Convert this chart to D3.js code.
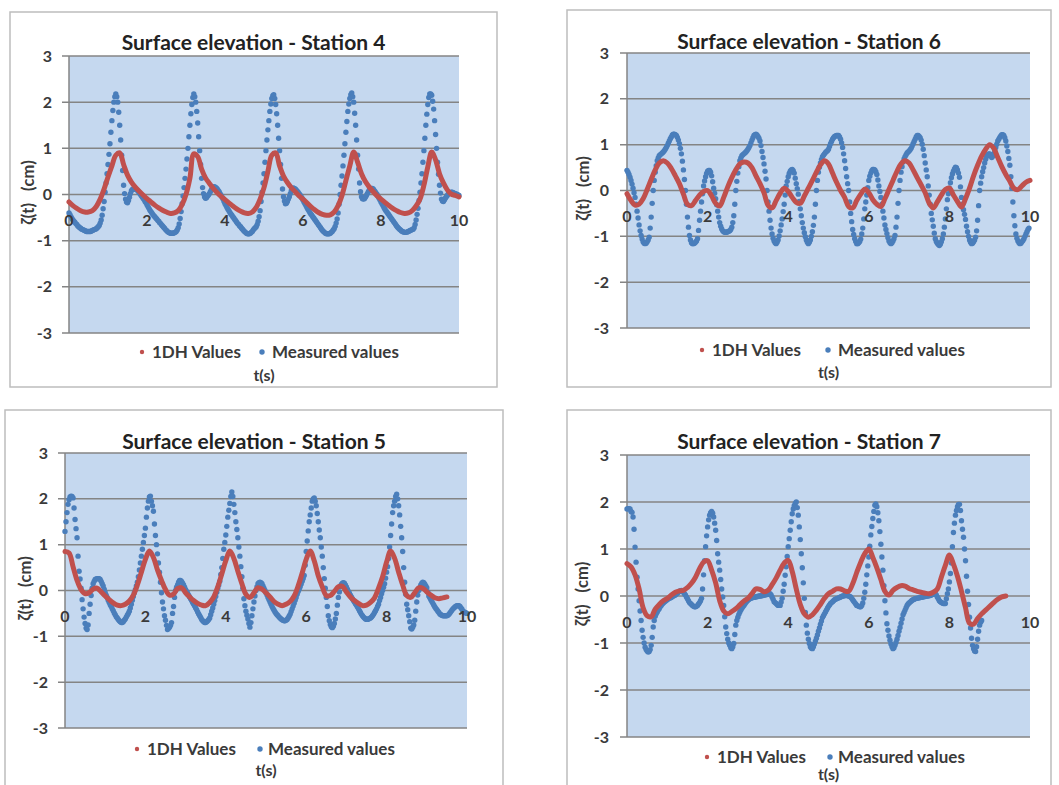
<!DOCTYPE html>
<html><head><meta charset="utf-8">
<script src="https://cdn.jsdelivr.net/npm/d3@7"></script>
<style>
body{margin:0;background:#fff}
svg{display:block}
text{font-family:Lato,"Liberation Sans",sans-serif;font-weight:bold;white-space:pre}
</style>
</head><body>
<svg id="chart" width="1059" height="785"></svg>
<script>
// ---------- data ----------
const yTicks = [-3, -2, -1, 0, 1, 2, 3];
const xTicks = [0, 2, 4, 6, 8, 10];
const legendLabels = ["1DH Values", "Measured values"];
const titles = ["Surface elevation - Station 4", "Surface elevation - Station 6",
                "Surface elevation - Station 5", "Surface elevation - Station 7"];
const xLabel = "t(s)";
const yLabel = "ζ(t)   (cm)";
const dtModel = 0.1;    // sampling step of 1DH series (s)
const dtMeas = 0.025;   // sampling step of measured series (s)

// Station 4
const st4Model = [-0.16,-0.24,-0.30,-0.35,-0.38,-0.38,-0.35,-0.26,-0.10,0.12,0.38,
  0.62,0.85,0.90,0.65,0.42,0.27,0.16,0.07,-0.01,-0.09,
  -0.16,-0.23,-0.29,-0.34,-0.38,-0.41,-0.40,-0.35,-0.22,0.00,
  0.35,0.88,0.82,0.55,0.36,0.24,0.13,0.04,-0.04,-0.11,
  -0.18,-0.25,-0.31,-0.36,-0.40,-0.41,-0.38,-0.28,-0.10,0.15,
  0.50,0.85,0.90,0.62,0.40,0.26,0.15,0.06,-0.03,-0.10,
  -0.18,-0.26,-0.33,-0.39,-0.43,-0.45,-0.44,-0.38,-0.24,-0.02,
  0.30,0.62,0.92,0.70,0.45,0.28,0.16,0.06,-0.03,-0.10,
  -0.17,-0.24,-0.30,-0.35,-0.39,-0.41,-0.40,-0.35,-0.25,-0.10,
  0.20,0.60,0.92,0.75,0.45,0.25,0.10,0.01,-0.02,-0.05];
const st4Meas = [
  -0.40,-0.44,-0.48,-0.52,-0.55,-0.58,-0.60,-0.63,-0.65,-0.68,-0.70,-0.72,-0.73,-0.75,-0.76,-0.77,-0.78,-0.79,-0.80,-0.80,
  -0.80,-0.80,-0.80,-0.79,-0.78,-0.77,-0.76,-0.75,-0.74,-0.72,-0.70,-0.67,-0.62,-0.55,-0.45,-0.31,-0.15,0.05,0.25,0.45,
  0.65,0.87,1.10,1.35,1.60,1.82,2.00,2.12,2.18,2.12,2.00,1.78,1.50,1.18,0.85,0.52,0.20,0.02,-0.10,-0.16,
  -0.18,-0.13,-0.06,0.02,0.08,0.11,0.12,0.12,0.12,0.11,0.09,0.07,0.04,0.01,-0.02,-0.05,-0.08,-0.11,-0.15,-0.18,
  -0.22,-0.26,-0.30,-0.34,-0.37,-0.40,-0.43,-0.46,-0.48,-0.51,-0.53,-0.56,-0.58,-0.61,-0.63,-0.66,-0.68,-0.71,-0.73,-0.76,
  -0.78,-0.80,-0.82,-0.83,-0.84,-0.84,-0.84,-0.84,-0.83,-0.82,-0.80,-0.77,-0.72,-0.64,-0.52,-0.37,-0.20,-0.03,0.15,0.35,
  0.55,0.77,1.00,1.25,1.50,1.75,1.95,2.10,2.18,2.12,2.00,1.80,1.55,1.25,0.95,0.65,0.35,0.15,0.02,-0.05,
  -0.08,-0.07,-0.04,-0.01,0.02,0.06,0.10,0.14,0.16,0.17,0.16,0.14,0.12,0.09,0.06,0.02,-0.02,-0.06,-0.10,-0.15,
  -0.20,-0.24,-0.28,-0.32,-0.35,-0.39,-0.42,-0.45,-0.48,-0.51,-0.54,-0.57,-0.60,-0.63,-0.65,-0.68,-0.70,-0.73,-0.75,-0.78,
  -0.80,-0.82,-0.84,-0.85,-0.85,-0.85,-0.84,-0.82,-0.80,-0.77,-0.74,-0.72,-0.70,-0.65,-0.58,-0.48,-0.35,-0.15,0.05,0.25,
  0.45,0.70,0.95,1.18,1.40,1.60,1.80,1.96,2.08,2.14,2.16,2.08,1.95,1.75,1.50,1.22,0.95,0.65,0.35,0.12,
  -0.05,-0.14,-0.20,-0.19,-0.15,-0.10,-0.05,0.02,0.08,0.12,0.14,0.13,0.12,0.10,0.07,0.05,0.02,-0.01,-0.04,-0.08,
  -0.12,-0.16,-0.20,-0.24,-0.28,-0.32,-0.35,-0.39,-0.42,-0.45,-0.48,-0.51,-0.54,-0.57,-0.60,-0.63,-0.66,-0.69,-0.72,-0.75,
  -0.78,-0.80,-0.82,-0.84,-0.85,-0.85,-0.85,-0.85,-0.84,-0.82,-0.80,-0.77,-0.74,-0.69,-0.62,-0.53,-0.40,-0.21,0.00,0.20,
  0.40,0.62,0.85,1.10,1.35,1.58,1.80,1.96,2.08,2.16,2.20,2.12,2.00,1.76,1.50,1.18,0.85,0.55,0.25,0.06,
  -0.05,-0.09,-0.10,-0.09,-0.06,-0.02,0.02,0.06,0.10,0.12,0.13,0.13,0.12,0.09,0.06,0.03,0.00,-0.04,-0.08,-0.12,
  -0.16,-0.20,-0.24,-0.28,-0.32,-0.35,-0.38,-0.41,-0.44,-0.47,-0.50,-0.53,-0.56,-0.59,-0.62,-0.65,-0.68,-0.71,-0.73,-0.75,
  -0.77,-0.79,-0.80,-0.81,-0.82,-0.82,-0.82,-0.81,-0.80,-0.79,-0.78,-0.77,-0.76,-0.75,-0.72,-0.65,-0.55,-0.43,-0.30,-0.13,
  0.05,0.25,0.45,0.70,0.95,1.22,1.50,1.74,1.95,2.10,2.18,2.18,2.15,2.02,1.85,1.60,1.30,1.00,0.70,0.44,
  0.20,0.03,-0.10,-0.14,-0.15,-0.12,-0.08,-0.05,-0.02,0.01,0.03,0.04,0.05,0.05,0.04,0.03,0.02,0.01,0.00,-0.01,
  -0.02];

// Station 6
const st6Model = [-0.07,-0.22,-0.32,-0.30,-0.18,0.02,0.24,0.45,0.60,0.65,
  0.60,0.48,0.32,0.15,-0.08,-0.30,-0.33,-0.22,-0.10,-0.02,
  0.00,-0.12,-0.28,-0.34,-0.15,0.08,0.28,0.45,0.58,0.62,
  0.60,0.50,0.32,0.15,-0.05,-0.32,-0.38,-0.22,-0.06,0.05,
  -0.02,-0.15,-0.26,-0.28,-0.12,0.05,0.22,0.40,0.56,0.65,
  0.58,0.38,0.18,0.00,-0.15,-0.35,-0.38,-0.22,-0.08,0.03,
  -0.05,-0.20,-0.30,-0.35,-0.18,0.02,0.22,0.42,0.58,0.65,
  0.60,0.45,0.28,0.12,-0.05,-0.28,-0.38,-0.25,-0.10,0.02,
  0.05,-0.10,-0.24,-0.36,-0.18,0.05,0.32,0.55,0.75,0.90,
  1.00,0.92,0.72,0.52,0.35,0.20,0.05,0.02,0.10,0.18,
  0.22];
const st6Meas = [
  0.44,0.40,0.35,0.29,0.22,0.14,0.05,-0.05,-0.15,-0.30,-0.45,-0.60,-0.75,-0.88,-0.98,-1.06,-1.12,-1.15,-1.16,-1.15,
  -1.12,-1.08,-1.02,-0.82,-0.58,-0.28,0.00,0.22,0.40,0.54,0.65,0.71,0.76,0.78,0.80,0.82,0.84,0.87,0.90,0.94,
  0.98,1.03,1.08,1.13,1.17,1.21,1.23,1.23,1.22,1.20,1.16,1.10,1.02,0.92,0.80,0.64,0.45,0.24,0.00,-0.30,
  -0.58,-0.80,-0.98,-1.08,-1.14,-1.16,-1.16,-1.15,-1.13,-1.10,-1.05,-0.87,-0.65,-0.45,-0.25,-0.07,0.10,0.21,0.30,0.37,
  0.42,0.44,0.44,0.40,0.32,0.19,0.05,-0.06,-0.18,-0.31,-0.45,-0.58,-0.70,-0.78,-0.84,-0.88,-0.90,-0.91,-0.91,-0.91,
  -0.90,-0.89,-0.88,-0.85,-0.80,-0.70,-0.55,-0.30,0.00,0.20,0.38,0.52,0.65,0.71,0.76,0.78,0.80,0.82,0.84,0.87,
  0.90,0.94,0.98,1.04,1.10,1.15,1.20,1.22,1.23,1.21,1.18,1.14,1.08,0.98,0.85,0.72,0.58,0.42,0.25,0.00,
  -0.25,-0.45,-0.65,-0.82,-0.95,-1.04,-1.10,-1.14,-1.16,-1.13,-1.08,-0.99,-0.88,-0.75,-0.62,-0.46,-0.30,-0.10,0.10,0.20,
  0.30,0.37,0.42,0.45,0.46,0.43,0.38,0.27,0.15,0.04,-0.08,-0.24,-0.40,-0.55,-0.70,-0.82,-0.92,-1.01,-1.08,-1.13,
  -1.16,-1.13,-1.08,-1.00,-0.90,-0.76,-0.58,-0.30,0.00,0.22,0.40,0.51,0.60,0.68,0.74,0.77,0.80,0.83,0.85,0.87,
  0.90,0.96,1.02,1.07,1.12,1.15,1.18,1.19,1.20,1.20,1.20,1.17,1.12,1.04,0.94,0.80,0.65,0.48,0.30,0.15,
  0.00,-0.25,-0.50,-0.68,-0.85,-0.96,-1.05,-1.11,-1.16,-1.16,-1.14,-1.11,-1.06,-0.95,-0.82,-0.62,-0.40,-0.25,-0.10,0.06,
  0.22,0.31,0.38,0.43,0.46,0.46,0.45,0.41,0.35,0.23,0.10,-0.02,-0.15,-0.30,-0.45,-0.60,-0.75,-0.85,-0.94,-1.03,
  -1.10,-1.14,-1.16,-1.14,-1.10,-1.05,-0.98,-0.80,-0.58,-0.28,0.00,0.22,0.40,0.52,0.62,0.69,0.74,0.78,0.82,0.84,
  0.86,0.89,0.92,0.97,1.02,1.07,1.12,1.17,1.20,1.20,1.18,1.15,1.10,1.01,0.90,0.76,0.60,0.45,0.30,0.10,
  -0.10,-0.30,-0.50,-0.64,-0.78,-0.93,-1.05,-1.11,-1.15,-1.18,-1.20,-1.17,-1.12,-1.05,-0.95,-0.80,-0.62,-0.40,-0.20,-0.07,
  0.05,0.17,0.28,0.36,0.42,0.47,0.51,0.50,0.45,0.38,0.29,0.08,-0.15,-0.30,-0.42,-0.52,-0.63,-0.78,-0.90,-1.00,
  -1.08,-1.13,-1.16,-1.15,-1.12,-1.08,-1.02,-0.88,-0.65,-0.33,0.00,0.16,0.30,0.41,0.50,0.60,0.68,0.74,0.78,0.80,
  0.80,0.76,0.72,0.75,0.80,0.87,0.94,1.01,1.08,1.12,1.16,1.19,1.22,1.22,1.20,1.15,1.08,0.97,0.85,0.70,
  0.55,0.30,0.05,-0.25,-0.55,-0.77,-0.95,-1.04,-1.10,-1.14,-1.16,-1.15,-1.12,-1.09,-1.05,-1.00,-0.95,-0.90,-0.85,-0.82];

// Station 5
const st5Model = [0.85,0.82,0.52,0.22,0.02,-0.07,-0.05,0.03,0.05,-0.03,
  -0.12,-0.20,-0.27,-0.32,-0.33,-0.30,-0.23,-0.10,0.12,0.40,
  0.68,0.86,0.72,0.45,0.22,0.02,-0.10,-0.08,0.04,0.06,
  -0.05,-0.14,-0.22,-0.28,-0.32,-0.33,-0.26,-0.14,0.08,0.36,
  0.65,0.86,0.70,0.42,0.15,-0.08,-0.15,-0.05,0.06,0.03,
  -0.05,-0.14,-0.24,-0.30,-0.33,-0.30,-0.24,-0.12,0.10,0.38,
  0.68,0.86,0.65,0.32,0.08,-0.11,-0.11,-0.02,0.08,0.09,
  -0.03,-0.14,-0.22,-0.28,-0.33,-0.32,-0.26,-0.16,0.05,0.30,
  0.62,0.86,0.70,0.40,0.12,-0.11,-0.15,-0.05,0.06,0.05,
  -0.03,-0.10,-0.16,-0.18,-0.16,-0.14];
const st5Meas = [
  1.29,1.50,1.70,1.88,1.98,2.04,2.06,2.05,2.02,1.80,1.55,1.35,1.15,0.75,0.42,0.25,0.05,-0.20,-0.40,-0.58,
  -0.72,-0.82,-0.85,-0.75,-0.50,-0.30,-0.11,0.05,0.15,0.20,0.24,0.25,0.26,0.26,0.26,0.24,0.20,0.15,0.10,0.03,
  -0.05,-0.10,-0.15,-0.21,-0.26,-0.31,-0.35,-0.40,-0.44,-0.49,-0.53,-0.57,-0.60,-0.63,-0.66,-0.68,-0.70,-0.70,-0.68,-0.65,
  -0.62,-0.58,-0.54,-0.50,-0.45,-0.38,-0.30,-0.21,-0.13,-0.05,0.02,0.10,0.18,0.30,0.45,0.60,0.75,0.90,1.05,1.20,
  1.36,1.60,1.80,1.95,2.04,2.06,1.95,1.85,1.73,1.45,1.20,1.00,0.80,0.60,0.40,0.18,-0.05,-0.25,-0.40,-0.55,
  -0.65,-0.76,-0.85,-0.83,-0.80,-0.76,-0.70,-0.50,-0.35,-0.15,0.00,0.07,0.12,0.18,0.22,0.22,0.20,0.16,0.12,0.07,
  0.02,-0.02,-0.06,-0.10,-0.14,-0.18,-0.22,-0.26,-0.30,-0.34,-0.38,-0.42,-0.47,-0.51,-0.55,-0.59,-0.63,-0.66,-0.68,-0.70,
  -0.70,-0.68,-0.66,-0.63,-0.60,-0.53,-0.45,-0.38,-0.30,-0.22,-0.13,-0.04,0.05,0.12,0.20,0.35,0.50,0.70,0.90,1.05,
  1.21,1.40,1.60,1.75,1.90,2.05,2.15,2.05,1.88,1.70,1.50,1.33,1.15,0.95,0.75,0.52,0.30,0.05,-0.18,-0.33,
  -0.45,-0.54,-0.62,-0.72,-0.80,-0.70,-0.55,-0.40,-0.25,-0.12,0.00,0.08,0.15,0.17,0.18,0.17,0.15,0.10,0.05,0.00,
  -0.05,-0.10,-0.15,-0.20,-0.25,-0.30,-0.35,-0.39,-0.43,-0.47,-0.50,-0.53,-0.55,-0.58,-0.60,-0.62,-0.64,-0.65,-0.66,-0.66,
  -0.65,-0.63,-0.60,-0.56,-0.52,-0.46,-0.40,-0.34,-0.28,-0.21,-0.15,-0.08,-0.02,0.03,0.08,0.14,0.20,0.26,0.33,0.55,
  0.85,1.08,1.30,1.50,1.65,1.80,1.95,2.00,2.02,1.95,1.85,1.68,1.50,1.32,1.15,0.95,0.75,0.50,0.26,0.05,
  -0.15,-0.35,-0.55,-0.66,-0.74,-0.79,-0.81,-0.78,-0.72,-0.62,-0.50,-0.32,-0.15,-0.03,0.08,0.13,0.16,0.17,0.16,0.12,
  0.08,0.03,-0.02,-0.06,-0.10,-0.14,-0.18,-0.22,-0.25,-0.29,-0.32,-0.36,-0.40,-0.44,-0.48,-0.52,-0.55,-0.58,-0.60,-0.62,
  -0.63,-0.63,-0.62,-0.61,-0.60,-0.58,-0.55,-0.52,-0.48,-0.44,-0.40,-0.35,-0.30,-0.22,-0.15,-0.07,0.00,0.07,0.15,0.27,
  0.40,0.52,0.70,0.95,1.20,1.45,1.70,1.85,1.95,2.05,2.10,2.00,1.85,1.65,1.40,1.15,0.85,0.50,0.18,-0.08,
  -0.30,-0.42,-0.55,-0.68,-0.82,-0.84,-0.80,-0.75,-0.65,-0.45,-0.25,-0.10,0.00,0.06,0.12,0.16,0.18,0.17,0.14,0.10,
  0.06,-0.03,-0.12,-0.16,-0.20,-0.24,-0.28,-0.32,-0.36,-0.39,-0.42,-0.45,-0.48,-0.51,-0.53,-0.54,-0.55,-0.55,-0.55,-0.55,
  -0.55,-0.54,-0.52,-0.49,-0.46,-0.43,-0.40,-0.38,-0.36,-0.34,-0.33,-0.33,-0.33,-0.35,-0.38,-0.41,-0.45,-0.47,-0.48,-0.49,
  -0.50];

// Station 7
const st7Model = [0.69,0.62,0.45,0.15,-0.25,-0.42,-0.44,-0.28,-0.18,-0.10,
  -0.05,0.02,0.08,0.11,0.12,0.18,0.27,0.40,0.58,0.72,
  0.75,0.55,0.28,-0.10,-0.32,-0.38,-0.33,-0.27,-0.19,-0.11,
  -0.05,0.05,0.15,0.14,0.09,0.12,0.24,0.38,0.55,0.70,
  0.76,0.52,0.15,-0.18,-0.38,-0.45,-0.40,-0.30,-0.18,-0.05,
  0.05,0.10,0.15,0.15,0.11,0.10,0.26,0.50,0.72,0.90,
  1.00,0.82,0.60,0.35,0.10,0.02,0.12,0.18,0.22,0.21,
  0.16,0.13,0.10,0.08,0.06,0.05,0.08,0.15,0.40,0.65,
  0.87,0.68,0.42,0.10,-0.25,-0.58,-0.60,-0.48,-0.38,-0.30,
  -0.22,-0.14,-0.07,-0.02,0.00];
const st7Meas = [
  1.85,1.86,1.86,1.85,1.80,1.78,1.68,1.42,1.04,0.72,0.40,0.15,-0.10,-0.32,-0.52,-0.73,-0.88,-1.00,-1.09,-1.14,
  -1.17,-1.19,-1.18,-1.14,-1.05,-0.88,-0.66,-0.52,-0.43,-0.38,-0.34,-0.30,-0.27,-0.23,-0.20,-0.17,-0.15,-0.13,-0.11,-0.09,
  -0.08,-0.06,-0.05,-0.04,-0.03,-0.01,0.00,0.01,0.02,0.04,0.06,0.08,0.10,0.11,0.12,0.10,0.08,0.05,0.02,-0.02,
  -0.06,-0.10,-0.14,-0.16,-0.18,-0.20,-0.22,-0.23,-0.23,-0.22,-0.20,-0.17,-0.14,-0.10,-0.05,0.15,0.45,0.75,1.05,1.28,
  1.47,1.62,1.72,1.77,1.80,1.76,1.68,1.55,1.40,1.18,0.90,0.72,0.55,0.35,0.15,-0.02,-0.20,-0.44,-0.66,-0.80,
  -0.92,-1.00,-1.05,-1.10,-1.12,-1.08,-1.01,-0.82,-0.62,-0.52,-0.45,-0.39,-0.34,-0.30,-0.26,-0.23,-0.20,-0.17,-0.14,-0.11,
  -0.09,-0.07,-0.06,-0.05,-0.04,-0.03,-0.03,-0.02,-0.02,-0.01,-0.01,0.00,0.00,0.00,0.01,0.01,0.02,0.02,0.03,0.03,
  0.04,0.04,0.05,0.02,-0.02,-0.07,-0.12,-0.14,-0.16,-0.18,-0.20,-0.20,-0.20,-0.13,-0.05,0.10,0.25,0.44,0.62,0.84,
  1.05,1.22,1.40,1.58,1.75,1.85,1.92,1.97,2.00,1.88,1.72,1.47,1.20,0.90,0.60,0.28,-0.05,-0.35,-0.62,-0.79,
  -0.92,-1.01,-1.08,-1.11,-1.12,-1.08,-1.02,-0.96,-0.90,-0.83,-0.75,-0.68,-0.60,-0.53,-0.46,-0.42,-0.38,-0.34,-0.30,-0.26,
  -0.22,-0.19,-0.16,-0.14,-0.12,-0.10,-0.08,-0.07,-0.06,-0.05,-0.04,-0.03,-0.02,-0.01,0.00,0.00,0.01,0.01,0.01,0.01,
  0.00,-0.01,-0.02,-0.05,-0.08,-0.11,-0.14,-0.17,-0.20,-0.21,-0.22,-0.23,-0.23,-0.20,-0.15,-0.05,0.08,0.25,0.45,0.64,
  0.83,1.06,1.30,1.48,1.65,1.80,1.93,1.96,1.90,1.77,1.60,1.37,1.10,0.83,0.55,0.22,-0.10,-0.36,-0.59,-0.73,
  -0.85,-0.94,-1.02,-1.08,-1.12,-1.10,-1.05,-0.99,-0.92,-0.84,-0.75,-0.67,-0.58,-0.49,-0.40,-0.35,-0.30,-0.25,-0.20,-0.17,
  -0.15,-0.13,-0.11,-0.09,-0.08,-0.07,-0.06,-0.05,-0.05,-0.04,-0.04,-0.03,-0.03,-0.02,-0.02,-0.01,-0.01,0.00,0.00,0.00,
  0.01,0.01,0.02,0.03,0.04,0.05,0.05,0.02,-0.02,-0.06,-0.10,-0.12,-0.14,-0.15,-0.16,-0.16,-0.16,-0.06,0.05,0.15,
  0.30,0.48,0.70,1.05,1.35,1.55,1.72,1.82,1.90,1.95,1.95,1.82,1.60,1.42,1.25,1.00,0.75,0.42,0.10,-0.18,
  -0.45,-0.68,-0.90,-1.05,-1.12,-1.17,-1.18,-1.08,-0.92,-0.75,-0.62,-0.56,-0.52];

// ---------- layout ----------
const panels = [
  {title: titles[0], model: st4Model, meas: st4Meas,
   frame: [10, 12, 497, 387], px: [69, 459], py: [56, 333], tickX: 52, ylabX: 28, titleY: 43,
   legY: 352, legX: [142, 152, 262, 272], xlabY: 375},
  {title: titles[1], model: st6Model, meas: st6Meas,
   frame: [567, 10, 1051, 387], px: [627, 1030], py: [53, 328], tickX: 609, ylabX: 583, titleY: 42,
   legY: 350, legX: [702, 712, 828, 838], xlabY: 372},
  {title: titles[2], model: st5Model, meas: st5Meas,
   frame: [5, 410, 503, 800], px: [65, 467], py: [453, 728], tickX: 48, ylabX: 25, titleY: 442,
   legY: 749, legX: [137, 147, 260, 268], xlabY: 770},
  {title: titles[3], model: st7Model, meas: st7Meas,
   frame: [567, 410, 1051, 800], px: [627, 1030], py: [455, 737], tickX: 609, ylabX: 582, titleY: 442,
   legY: 757, legX: [707, 717, 830, 838], xlabY: 774}
];

const C = {
  frame: "#bdbdbd", plotBg: "#c5d8ef", grid: "#848484", text: "#3a3a3a",
  red: "#c0504d", blue: "#4a7ebb"
};

const svg = d3.select("#chart");

panels.forEach(p => {
  const g = svg.append("g");
  const [fx0, fy0, fx1, fy1] = p.frame;
  g.append("rect").attr("x", fx0).attr("y", fy0).attr("width", fx1 - fx0).attr("height", fy1 - fy0)
    .attr("fill", "#fff").attr("stroke", C.frame).attr("stroke-width", 1.5);

  const x = d3.scaleLinear().domain([0, 10]).range(p.px);
  const y = d3.scaleLinear().domain([-3, 3]).range([p.py[1], p.py[0]]);

  g.append("rect").attr("x", p.px[0]).attr("y", p.py[0])
    .attr("width", p.px[1] - p.px[0]).attr("height", p.py[1] - p.py[0]).attr("fill", C.plotBg);

  g.selectAll(".grid").data(yTicks).join("line")
    .attr("x1", p.px[0] - 7).attr("x2", p.px[1])
    .attr("y1", d => y(d)).attr("y2", d => y(d))
    .attr("stroke", C.grid).attr("stroke-width", 1.5);
  g.append("line").attr("x1", p.px[0]).attr("x2", p.px[0]).attr("y1", p.py[0]).attr("y2", p.py[1])
    .attr("stroke", C.grid).attr("stroke-width", 1.5);

  g.selectAll(".yt").data(yTicks).join("text")
    .attr("x", p.tickX).attr("y", d => y(d)).attr("dy", "0.35em")
    .attr("text-anchor", "end").attr("font-size", 16).attr("fill", C.text)
    .text(d => d);

  g.append("text").attr("x", (fx0 + fx1) / 2).attr("y", p.titleY).attr("dy", "0.35em")
    .attr("text-anchor", "middle").attr("font-size", 21).attr("fill", "#222").text(p.title);

  g.selectAll(".m").data(p.meas).join("circle")
    .attr("cx", (d, i) => x(i * dtMeas)).attr("cy", d => y(d))
    .attr("r", 2.7).attr("fill", C.blue);

  const line = d3.line().x((d, i) => x(i * dtModel)).y(d => y(d)).curve(d3.curveCatmullRom.alpha(0.5));
  g.append("path").attr("d", line(p.model)).attr("fill", "none")
    .attr("stroke", C.red).attr("stroke-width", 5).attr("stroke-linecap", "round").attr("stroke-linejoin", "round");

  g.selectAll(".xt").data(xTicks).join("text")
    .attr("x", d => x(d)).attr("y", y(0) + 26).attr("dy", "0.35em")
    .attr("text-anchor", "middle").attr("font-size", 16).attr("fill", C.text)
    .text(d => d);

  g.append("text").attr("transform", `translate(${p.ylabX},${(p.py[0] + p.py[1]) / 2 - 2}) rotate(-90)`)
    .attr("text-anchor", "middle").attr("dy", "0.35em").attr("font-size", 16.5).attr("fill", C.text).text(yLabel);

  const lg = g.append("g");
  lg.append("circle").attr("cx", p.legX[0]).attr("cy", p.legY).attr("r", 2.2).attr("fill", C.red);
  lg.append("text").attr("x", p.legX[1]).attr("y", p.legY).attr("dy", "0.35em")
    .attr("font-size", 17).attr("fill", C.text).text(legendLabels[0]);
  lg.append("circle").attr("cx", p.legX[2]).attr("cy", p.legY).attr("r", 2.7).attr("fill", C.blue);
  lg.append("text").attr("x", p.legX[3]).attr("y", p.legY).attr("dy", "0.35em")
    .attr("font-size", 17).attr("fill", C.text).text(legendLabels[1]);

  g.append("text").attr("x", (p.px[0] + p.px[1]) / 2).attr("y", p.xlabY).attr("dy", "0.35em")
    .attr("text-anchor", "middle").attr("font-size", 16).attr("fill", C.text).text(xLabel);
});
</script>
</body></html>
